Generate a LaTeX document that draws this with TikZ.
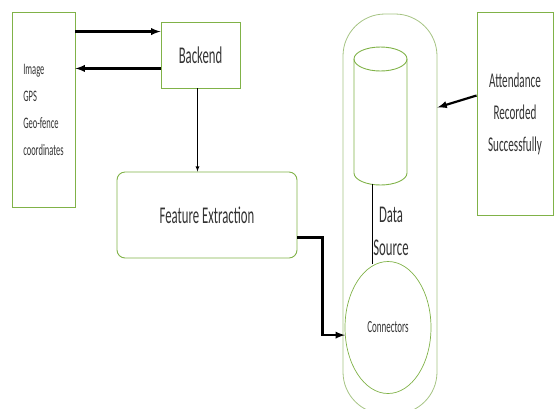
\documentclass[tikz,border=0pt]{standalone}
\usepackage{fontspec}
\setmainfont{Carlito}[FakeStretch=0.53]
\usepackage{tikz}
\usetikzlibrary{calc,shapes.geometric}
\definecolor{linegreen}{RGB}{128,178,72}
\definecolor{palegreen}{RGB}{165,195,130}
\tikzset{
    gbox/.style={draw=linegreen, line width=0.9pt, rectangle, inner sep=0pt, text=black!80},
    bigarrow/.style={-latex, line width=2.2pt},
    thinarrow/.style={-latex, line width=0.8pt},
  }

\begin{document}
\begin{tikzpicture}[x=1pt,y=-1pt]
				  %cadre de l'image
				  \useasboundingbox (0,0) rectangle (556,408);
				  \node[gbox, minimum width=63pt, minimum height=195pt, align=left,
				        font=\fontsize{16}{27}\selectfont] (input) at (43.5,109.5)
				        {Image\\GPS\\Geo-fence\\coordinates};
				  \node[gbox, minimum width=79pt, minimum height=66pt, font=\fontsize{24}{26}\selectfont]
				        (backend) at (200.5,55) {Backend};
				  \node[gbox, rounded corners=8pt, minimum width=180pt, minimum height=86pt,
				        font=\fontsize{24}{26}\selectfont] (fe) at (207,215) {Feature Extraction};
				  %source de donnees
				  \node[draw=palegreen, line width=0.8pt, rounded corners=42pt, minimum width=94pt,
				        minimum height=400pt] (store) at (390,214) {};
				  %cylindre (dessine a la main)
				  \coordinate(dbtop) at (380.5,59);
				  \coordinate(dbbot) at (372,184);
				  \draw[linegreen, line width=0.9pt] (dbtop) ellipse[x radius=26.5, y radius=12];
				  \draw[linegreen, line width=0.9pt] ($(dbtop)+(-26.5,0)$) -- ++(0,114)
				        arc[start angle=180, end angle=0, x radius=26.5, y radius=12] -- ($(dbtop)+(26.5,0)$);
				  \node[draw=linegreen, line width=0.7pt, ellipse, minimum width=86pt, minimum height=132pt,
				        inner sep=0pt, font=\fontsize{17}{19}\selectfont, text=black!80] (conn) at (388,327.5) {Connectors};
				  \node[align=center, font=\fontsize{24}{33}\selectfont, text=black!80] (src) at (391,231) {Data\\Source};
				  \node[gbox, minimum width=76pt, minimum height=203pt, align=center,
				        font=\fontsize{21}{32}\selectfont] (att) at (515,113.5)
				        {Attendance\\Recorded\\Successfully};
				  %fleches
				  \coordinate(b1) at ([yshift=-10pt]backend.north west);
				  \coordinate(b2) at ([yshift=20pt]backend.south west);
				  \coordinate(f1) at ([yshift=21pt]fe.south east);
				  \coordinate(a1) at ([yshift=18pt]att.west);
				  \coordinate(a2) at ([yshift=6pt]att.west);
				  
				  \draw[bigarrow] (b1 -| input.east) -- (b1);
				  \draw[bigarrow] (b2) -- (b2 -| input.east);
				  \draw[thinarrow] ([xshift=-3pt]backend.south) -- ([xshift=-3pt]backend.south |- fe.north);
				  \draw[bigarrow] (f1) -- ++(25,0) |- (conn.190);
				  \draw[bigarrow] (a1) -- (a2 -| store.east);
				  \draw[line width=0.8pt] (dbbot) -- ([yshift=-3pt]dbbot |- conn.north);
				  \end{tikzpicture}
\end{document}
